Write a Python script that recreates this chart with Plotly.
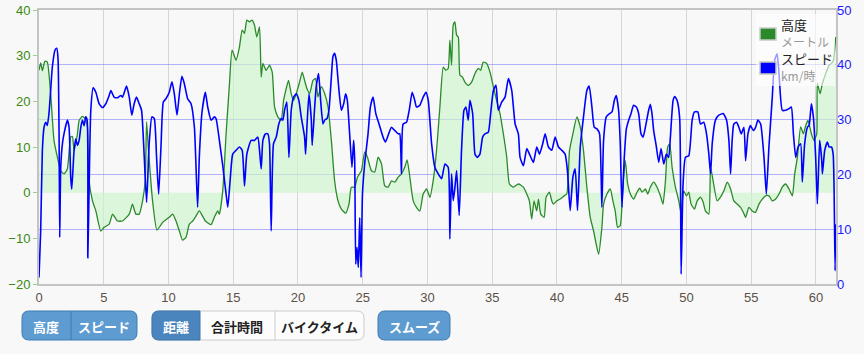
import plotly.graph_objects as go

# ---------------- data ----------------
alt_km = [0.00,0.13,0.26,0.46,0.64,0.90,1.16,1.42,1.68,1.93,2.19,2.45,2.58,2.71,2.97,3.10,3.35,3.56,3.74,3.87,
          4.13,4.39,4.77,5.03,5.42,5.68,6.06,6.45,6.97,7.22,7.48,7.74,8.00,8.20,8.31,8.46,8.77,9.11,9.55,10.06,
          10.32,10.58,10.84,11.09,11.35,11.61,11.87,12.13,12.38,12.85,13.29,13.54,13.80,13.93,14.19,14.45,14.71,14.91,15.22,15.48,
          15.69,15.87,16.05,16.25,16.46,16.64,16.82,17.03,17.16,17.29,17.54,17.80,18.01,18.19,18.45,18.70,18.89,19.09,19.27,19.48,
          19.66,19.87,20.12,20.33,20.51,20.69,20.90,21.16,21.36,21.54,21.80,22.06,22.32,22.58,22.83,23.09,23.35,23.68,23.94,24.12,
          24.38,24.59,24.90,25.15,25.36,25.67,25.93,26.19,26.45,26.70,26.96,27.22,27.48,27.74,27.99,28.25,28.43,28.64,28.90,29.15,
          29.41,29.67,29.93,30.19,30.44,30.70,30.96,31.22,31.42,31.60,31.73,31.86,31.99,32.12,32.25,32.38,32.51,32.71,32.89,33.15,
          33.41,33.67,33.93,34.11,34.31,34.57,34.83,35.09,35.34,35.60,35.86,36.12,36.33,36.64,37.02,37.41,37.67,37.87,38.05,38.23,
          38.44,38.57,38.75,39.01,39.16,39.42,39.60,39.73,39.99,40.25,40.56,40.76,40.97,41.23,41.54,41.80,42.05,42.31,42.57,42.83,
          43.03,43.22,43.47,43.60,43.86,44.12,44.32,44.50,44.68,44.89,45.10,45.28,45.46,45.67,45.92,46.18,46.39,46.57,46.83,47.01,
          47.21,47.47,47.73,47.99,48.19,48.38,48.55,48.71,48.89,49.15,49.41,49.59,49.79,50.00,50.18,50.36,50.62,50.83,51.08,51.29,
          51.47,51.73,51.86,52.06,52.37,52.63,52.89,53.15,53.41,53.66,53.92,54.18,54.39,54.57,54.82,55.08,55.34,55.60,55.86,56.11,
          56.37,56.63,56.89,57.15,57.40,57.66,57.92,58.18,58.36,58.57,58.82,59.03,59.21,59.39,59.65,59.85,60.06,60.11,60.32,60.50,
          60.76,61.02,61.20,61.35,61.53]
altitude = [26.8,28.4,26.7,28.8,28.6,21.7,11.4,7.8,4.8,4.1,5.2,12.2,12.3,9.2,12.9,15.8,16.7,16.2,14.4,2.6,
            -1.8,-4.0,-8.4,-7.6,-6.9,-4.7,-6.2,-6.2,-4.7,-2.5,-4.7,-4.7,-1.8,2.6,15.5,9.2,-1.8,-8.2,-6.5,-5.4,
            -4.7,-6.2,-8.4,-10.4,-9.8,-6.9,-6.2,-5.1,-4.0,-6.2,-7.0,-5.4,-4.0,-4.7,0.4,12.9,23.9,31.2,29.0,31.9,
            35.6,34.9,37.8,37.4,37.8,36.7,34.1,36.3,25.3,28.3,26.8,27.9,26.4,18.8,16.6,15.8,20.2,22.8,24.6,21.7,
            20.2,21.7,24.2,26.4,24.6,22.8,21.7,24.6,25.0,21.0,23.2,21.7,18.8,11.4,2.6,-1.8,-3.6,-4.5,-2.5,1.2,
            1.2,3.4,4.8,8.9,7.8,4.8,4.5,7.8,6.3,1.5,1.2,2.6,2.3,3.4,4.1,5.6,7.2,3.4,-1.8,-3.2,
            -4.0,-0.3,0.8,-1.0,2.6,9.2,18.8,27.5,26.8,27.2,33.4,27.9,36.7,37.4,34.5,34.1,25.7,25.3,24.2,23.5,
            24.2,26.1,27.2,26.8,28.6,28.3,26.4,23.2,20.2,17.3,12.9,7.8,1.9,1.2,1.9,1.2,-0.3,-1.8,-5.8,-1.8,
            -4.0,-1.4,-4.7,-5.4,-1.0,0.1,-1.8,-2.5,-1.8,-1.4,-0.7,-0.3,9.2,12.9,16.6,14.4,9.2,1.2,-5.4,-8.4,
            -11.3,-13.5,-7.6,-2.5,-0.3,0.8,-1.8,-4.0,-7.6,-7.2,1.9,7.0,1.9,-0.3,-1.4,0.1,1.0,0.1,0.8,-0.3,
            1.2,2.3,1.2,-0.7,-2.5,2.6,10.0,10.7,5.6,1.2,-1.8,-4.7,0.4,-0.7,0.1,-2.5,-3.6,-1.8,-1.0,-2.1,
            -4.0,-4.7,5.6,2.6,-1.8,-1.0,0.4,2.3,0.8,-1.8,-2.5,-3.2,-4.3,-5.4,-3.2,-4.0,-4.3,-2.5,-1.4,-0.7,
            -0.7,-1.8,-1.4,-0.3,1.2,1.9,0.8,-0.7,4.1,7.8,14.4,12.9,14.7,15.8,12.9,11.4,12.9,23.9,21.7,23.9,
            26.1,27.9,28.3,29.0,34.1]

spd_km = [0.00,0.13,0.26,0.39,0.52,0.64,0.77,0.90,1.03,1.24,1.37,1.47,1.55,1.60,1.68,1.81,1.93,2.19,2.32,2.45,
          2.53,2.71,2.84,2.97,3.10,3.23,3.35,3.48,3.61,3.72,3.77,3.87,4.00,4.18,4.39,4.64,4.90,5.16,5.42,5.55,
          5.80,6.06,6.32,6.45,6.76,6.97,7.17,7.35,7.53,7.74,7.92,8.13,8.31,8.51,8.72,8.90,9.08,9.24,9.42,9.60,
          9.80,10.06,10.27,10.45,10.66,10.84,11.04,11.22,11.48,11.74,12.00,12.25,12.38,12.59,12.85,13.03,13.29,13.54,13.67,13.93,
          14.19,14.45,14.58,14.76,14.96,15.22,15.48,15.69,15.87,16.05,16.38,16.64,16.90,17.03,17.16,17.29,17.49,17.67,17.80,17.93,
          18.11,18.32,18.52,18.70,18.83,18.96,19.14,19.30,19.48,19.66,19.87,20.07,20.25,20.51,20.59,20.69,20.85,21.03,21.10,21.29,
          21.41,21.59,21.75,21.93,22.06,22.24,22.39,22.58,22.70,22.83,22.96,23.14,23.35,23.53,23.68,23.81,23.99,24.17,24.30,24.38,
          24.46,24.56,24.66,24.77,24.87,24.98,25.15,25.41,25.59,25.80,26.01,26.26,26.57,26.75,26.96,27.22,27.48,27.74,27.86,27.99,
          28.12,28.38,28.59,28.82,29.02,29.15,29.41,29.67,29.88,30.06,30.32,30.57,30.83,31.09,31.35,31.60,31.73,31.86,31.99,32.12,
          32.25,32.45,32.63,32.82,32.97,33.15,33.28,33.49,33.67,33.85,34.05,34.26,34.44,34.70,34.88,35.09,35.29,35.47,35.73,35.99,
          36.25,36.51,36.77,37.02,37.15,37.41,37.67,37.93,38.18,38.44,38.65,38.90,39.09,39.34,39.60,39.86,40.12,40.38,40.63,40.81,
          41.02,41.23,41.41,41.59,41.80,42.05,42.31,42.49,42.70,42.88,43.09,43.29,43.47,43.60,43.81,44.07,44.25,44.43,44.58,44.76,
          44.89,45.02,45.20,45.36,45.54,45.72,45.92,46.13,46.31,46.49,46.65,46.83,47.08,47.21,47.34,47.47,47.68,47.86,48.04,48.25,
          48.45,48.63,48.76,48.97,49.10,49.28,49.48,49.59,49.74,49.92,50.18,50.44,50.62,50.88,51.08,51.34,51.55,51.73,51.86,51.99,
          52.24,52.50,52.84,53.10,53.28,53.41,53.53,53.66,53.87,54.05,54.23,54.44,54.57,54.75,54.95,55.16,55.34,55.52,55.73,55.99,
          56.17,56.37,56.63,56.81,57.00,57.15,57.40,57.66,57.92,58.10,58.26,58.44,58.62,58.82,58.95,59.13,59.34,59.47,59.65,59.80,
          59.98,60.11,60.29,60.45,60.50,60.68,60.89,61.02,61.20,61.33,61.40,61.48,61.53]
speed = [1.2,9.7,24.4,28.6,29.5,28.9,31.1,35.3,39.6,42.7,43.0,41.1,27.4,8.5,21.3,25.6,27.4,29.9,28.6,19.5,
         17.3,24.4,26.5,25.3,26.2,28.6,29.9,28.9,30.5,29.9,4.8,17.6,31.7,35.8,35.0,32.9,32.2,32.9,34.4,35.3,
         34.1,34.0,34.4,34.1,36.1,34.1,30.8,32.9,34.1,32.9,31.7,23.1,14.9,25.6,30.5,30.2,23.1,16.4,25.0,33.2,
         33.8,35.0,36.9,34.7,30.8,34.7,37.9,36.6,33.8,32.9,28.6,14.0,23.1,31.4,35.0,32.3,29.9,30.5,30.2,26.2,
         21.6,16.4,14.0,18.9,23.7,24.4,25.0,24.4,17.9,23.7,26.2,26.2,26.8,24.4,21.0,26.2,27.4,27.4,25.6,9.7,
         25.6,26.8,29.2,30.2,29.9,31.7,33.2,23.1,31.7,34.1,34.7,33.5,30.5,26.8,23.7,28.6,34.7,29.9,25.3,32.3,
         36.0,38.4,33.5,29.2,29.9,30.2,31.7,37.8,41.5,42.1,40.8,36.0,31.7,32.9,34.7,33.5,27.4,21.3,26.2,22.5,
         3.6,6.7,3.0,12.1,1.2,16.4,21.9,27.4,32.3,34.1,31.1,29.2,26.8,25.9,27.1,28.6,28.0,27.4,27.4,20.1,
         29.2,29.5,31.7,35.0,33.5,32.3,32.6,34.1,35.0,33.5,25.6,21.3,20.1,19.2,21.9,21.3,8.2,20.1,15.2,17.6,
         20.7,12.5,24.4,31.7,32.3,29.9,33.5,31.1,23.7,23.1,23.7,26.8,27.4,27.7,31.1,35.3,36.3,31.7,33.2,34.1,
         37.5,35.3,29.2,27.4,23.1,21.6,24.7,23.4,22.2,25.0,23.7,25.6,27.4,25.0,24.4,26.8,25.0,24.4,23.7,20.7,
         13.4,19.5,21.0,13.4,25.0,30.5,35.3,36.1,32.3,28.6,28.3,27.4,14.0,26.2,30.5,31.1,31.4,33.5,34.4,31.7,
         25.6,14.0,23.1,28.3,29.9,31.1,32.6,32.3,31.1,27.4,26.8,28.6,31.7,32.8,31.1,28.0,25.0,22.2,24.7,21.9,
         23.7,23.1,26.8,33.5,34.2,33.5,30.2,1.8,18.3,23.1,23.4,29.9,31.4,31.4,29.2,29.5,27.4,23.7,20.1,25.6,
         29.9,30.8,31.1,29.9,26.2,20.1,26.2,29.2,29.5,28.6,27.4,28.6,22.5,27.4,28.9,28.0,28.6,29.9,29.2,23.1,
         16.4,25.0,34.1,40.8,42.0,38.4,31.7,31.7,32.0,32.3,27.4,23.1,25.0,25.6,18.6,25.6,28.6,28.9,32.9,30.5,
         23.1,14.6,26.2,22.5,20.1,24.4,25.9,25.0,25.0,23.7,17.6,2.4,10.9]

x_ticks = [0, 5, 10, 15, 20, 25, 30, 35, 40, 45, 50, 55, 60]
alt_ticks = [-20, -10, 0, 10, 20, 30, 40]
spd_ticks = [0, 10, 20, 30, 40, 50]

legend_labels = [("高度", "メートル"), ("スピード", "km/時")]
button_group1 = ["高度", "スピード"]
button_group2 = ["距離", "合計時間", "バイクタイム"]
button_smooth = "スムーズ"

# ---------------- figure ----------------
W, H = 864, 354
L, R, T, B = 39, 28, 10, 70
PW, PH = W - L - R, H - T - B

def px(x):
    return (x - L) / PW

def py(y):
    return (H - B - y) / PH

BG = "#f8f8f8"
GREEN = "#2a8a2a"
BLUE = "#0000ff"
FONT = "Liberation Sans, Arial, Noto Sans CJK JP, sans-serif"
JFONT = "Noto Sans CJK JP, sans-serif"

fig = go.Figure()
fig.add_trace(go.Scatter(
    x=alt_km, y=altitude, mode="lines", fill="tozeroy",
    fillcolor="rgba(205,245,205,0.65)",
    line=dict(color=GREEN, width=1.3, shape="spline", smoothing=0.5),
    showlegend=False, hoverinfo="skip"))
fig.add_trace(go.Scatter(
    x=spd_km, y=speed, mode="lines", yaxis="y2",
    line=dict(color=BLUE, width=1.6, shape="spline", smoothing=0.5),
    showlegend=False, hoverinfo="skip"))

shapes = []
annotations = []

def rrect(x0, y0, x1, y1, tl, tr, br, bl):
    def P(x, y):
        return f"{px(x):.5f},{py(y):.5f}"
    d = f"M {P(x0+tl, y0)} L {P(x1-tr, y0)} "
    d += f"Q {P(x1, y0)} {P(x1, y0+tr)} " if tr else ""
    d += f"L {P(x1, y1-br)} "
    d += f"Q {P(x1, y1)} {P(x1-br, y1)} " if br else ""
    d += f"L {P(x0+bl, y1)} "
    d += f"Q {P(x0, y1)} {P(x0, y1-bl)} " if bl else ""
    d += f"L {P(x0, y0+tl)} "
    d += f"Q {P(x0, y0)} {P(x0+tl, y0)} " if tl else ""
    d += "Z"
    return d

def add_path(d, fill, line, lw=1):
    shapes.append(dict(type="path", xref="paper", yref="paper", path=d,
                       fillcolor=fill, line=dict(color=line, width=lw), layer="above"))

def add_text(x, y, text, color, size=13, bold=False, xanchor="center", family=JFONT, yanchor="middle"):
    annotations.append(dict(x=px(x), y=py(y), xref="paper", yref="paper",
                            text=f"<b>{text}</b>" if bold else text, showarrow=False,
                            xanchor=xanchor, yanchor=yanchor, align="left",
                            font=dict(color=color, size=size, family=family)))

# legend
shapes.append(dict(type="rect", xref="paper", yref="paper", x0=px(756), x1=px(835), y0=py(86), y1=py(14),
                   fillcolor="rgba(255,255,255,0.6)", line=dict(width=0), layer="above"))
for i, ((name, unit), col) in enumerate(zip(legend_labels, [GREEN, BLUE])):
    top = 28 + i * 34
    shapes.append(dict(type="rect", xref="paper", yref="paper", x0=px(760), x1=px(776), y0=py(top + 12), y1=py(top),
                       fillcolor=col, line=dict(color="#c8c8c8", width=1.5), layer="above"))
    add_text(779, top - 15,
             f"{name}<br><span style='color:#999999;font-size:12px'>{unit}</span>",
             "#222222", size=13, xanchor="left", yanchor="top")

# buttons
BTN_BLUE = "#5d9bd0"
BTN_BLUE_LINE = "#3f7db3"
BTN_ACTIVE = "#4a86bd"
y0b, y1b = 311, 340
add_path(rrect(22, y0b, 137, y1b, 7, 7, 7, 7), BTN_BLUE, BTN_BLUE_LINE)
shapes.append(dict(type="line", xref="paper", yref="paper", x0=px(71), x1=px(71), y0=py(y0b), y1=py(y1b),
                   line=dict(color=BTN_BLUE_LINE, width=1), layer="above"))
add_text(46, 326, button_group1[0], "#ffffff", bold=True)
add_text(104, 326, button_group1[1], "#ffffff", bold=True)

add_path(rrect(152, y0b, 364, y1b, 7, 7, 7, 7), "#fcfcfc", "#cccccc")
add_path(rrect(152, y0b, 200, y1b, 7, 0, 0, 7), BTN_ACTIVE, "#3c76aa")
shapes.append(dict(type="line", xref="paper", yref="paper", x0=px(275), x1=px(275), y0=py(y0b), y1=py(y1b),
                   line=dict(color="#cccccc", width=1), layer="above"))
add_text(176, 326, button_group2[0], "#ffffff", bold=True)
add_text(237, 326, button_group2[1], "#222222", bold=True)
add_text(319, 326, button_group2[2], "#222222", bold=True)

add_path(rrect(378, y0b, 450, y1b, 7, 7, 7, 7), BTN_BLUE, BTN_BLUE_LINE)
add_text(414, 326, button_smooth, "#ffffff", bold=True)

fig.update_layout(
    width=W, height=H, autosize=False,
    margin=dict(l=L, r=R, t=T, b=B, pad=0, autoexpand=False),
    paper_bgcolor=BG, plot_bgcolor=BG,
    font=dict(family=FONT, size=13),
    xaxis=dict(range=[0, 61.55], tickvals=x_ticks, showgrid=True, gridcolor="#d6d6d6", gridwidth=1,
               zeroline=False, showline=True, linecolor="#c4c4c4", linewidth=2, mirror=True,
               ticks="", tickfont=dict(color="#5c5046", size=13), fixedrange=True, automargin=False),
    yaxis=dict(range=[-20, 40], tickvals=alt_ticks, showgrid=False, zeroline=False,
               showline=True, linecolor="#c4c4c4", linewidth=2, mirror=True,
               ticks="outside", ticklen=4, tickcolor="#9ccf8c", tickwidth=1,
               tickfont=dict(color="#3a8a10", size=13), automargin=False),
    yaxis2=dict(range=[0, 50], tickvals=spd_ticks, overlaying="y", side="right", showgrid=True,
                gridcolor="rgba(120,120,255,0.55)", gridwidth=1, zeroline=False, ticks="",
                tickfont=dict(color="#1a1aff", size=13), showline=False, automargin=False),
    shapes=shapes, annotations=annotations, showlegend=False,
)

fig.write_html("out.html")
